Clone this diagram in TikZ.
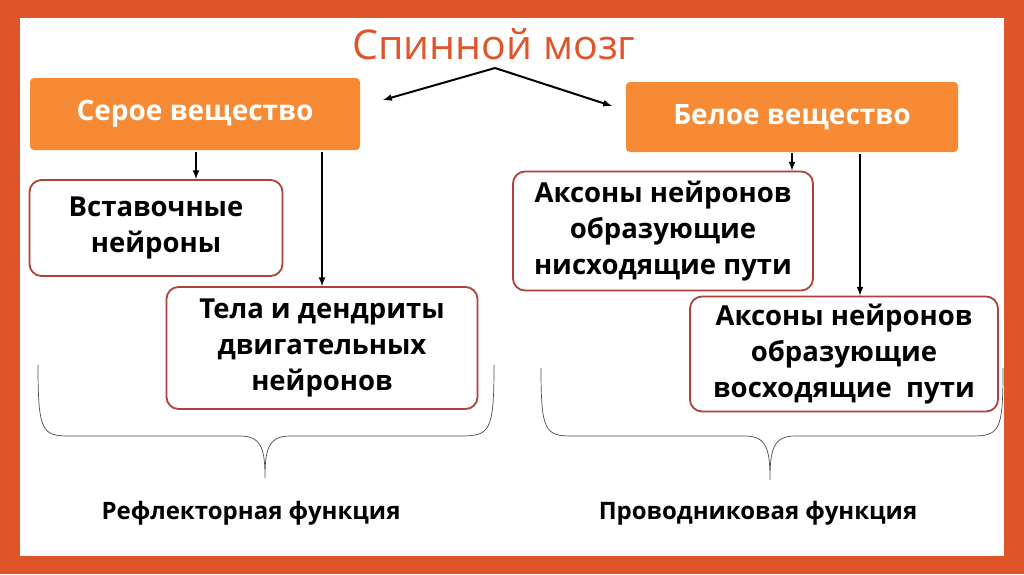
\documentclass[tikz,border=0pt]{standalone}
\usepackage{fontspec}
\setmainfont{Open Sans}
\begin{document}
\begin{tikzpicture}[x=1pt,y=-1pt,
  orbox/.style={fill=boxor,rounded corners=4pt,text=white,font=\fontsize{28}{32}\selectfont\bfseries},
  wbox/.style={draw=bordred,line width=1.8pt,fill=white,rounded corners=12pt,align=center,font=\fontsize{27.5}{36}\selectfont\bfseries},
  arr/.style={-latex,line width=2pt},
  brace/.style={draw=black!70,line width=0.7pt},
  lab/.style={font=\fontsize{24}{28}\selectfont\bfseries}]
\definecolor{frameor}{HTML}{E0542A}
\definecolor{boxor}{HTML}{F78B35}
\definecolor{bordred}{HTML}{B0403A}
\definecolor{titleor}{HTML}{E0542A}
\useasboundingbox (0,0) rectangle (1024,574);
\fill[frameor] (0,0) rectangle (1024,574);
\fill[white] (20,18) rectangle (1004,556);
\node[text=titleor,font=\fontsize{41}{46}\selectfont] (title) at (494,44) {Спинной мозг};
\coordinate (ap) at (495,68);
\node[orbox,minimum width=330,minimum height=72] (grey) at (195,114) {Серое вещество};
\node[orbox,minimum width=332,minimum height=70] (white) at (792,117) {Белое вещество};
\draw[arr] (ap) -- (383,100);
\draw[arr] (ap) -- (612,106);
\node[wbox,minimum width=253,minimum height=96] (ins) at (156,228) {Вставочные\\нейроны};
\node[wbox,minimum width=311,minimum height=122] (tela) at (322,348) {Тела и дендриты\\двигательных\\нейронов};
\node[wbox,minimum width=300,minimum height=119] (desc) at (663,231) {Аксоны нейронов\\образующие\\нисходящие пути};
\node[wbox,minimum width=308,minimum height=115] (asc) at (844,354) {Аксоны нейронов\\образующие\\восходящие\ \ пути};
\draw[arr] (196,152) -- (ins.north -| 196,0);
\draw[arr] (322,152) -- (tela.north -| 322,0);
\draw[arr] (792,153) -- (desc.north -| 792,0);
\draw[arr] (860,154) -- (asc.north -| 860,0);
\draw[brace] (38,365) .. controls (38,432) and (42,436) .. (70,436) -- (240,436) .. controls (262,436) and (265,450) .. (265,478)
  .. controls (265,450) and (268,436) .. (290,436) -- (460,436) .. controls (490,436) and (494,432) .. (494,365);
\draw[brace] (541,368) .. controls (541,432) and (545,436) .. (573,436) -- (745,436) .. controls (767,436) and (770,450) .. (770,480)
  .. controls (770,450) and (773,436) .. (795,436) -- (970,436) .. controls (1000,436) and (1003,432) .. (1003,368);
\node[lab] (l1) at (251,513) {Рефлекторная функция};
\node[lab] (l2) at (758,513) {Проводниковая функция};
\end{tikzpicture}
\end{document}
